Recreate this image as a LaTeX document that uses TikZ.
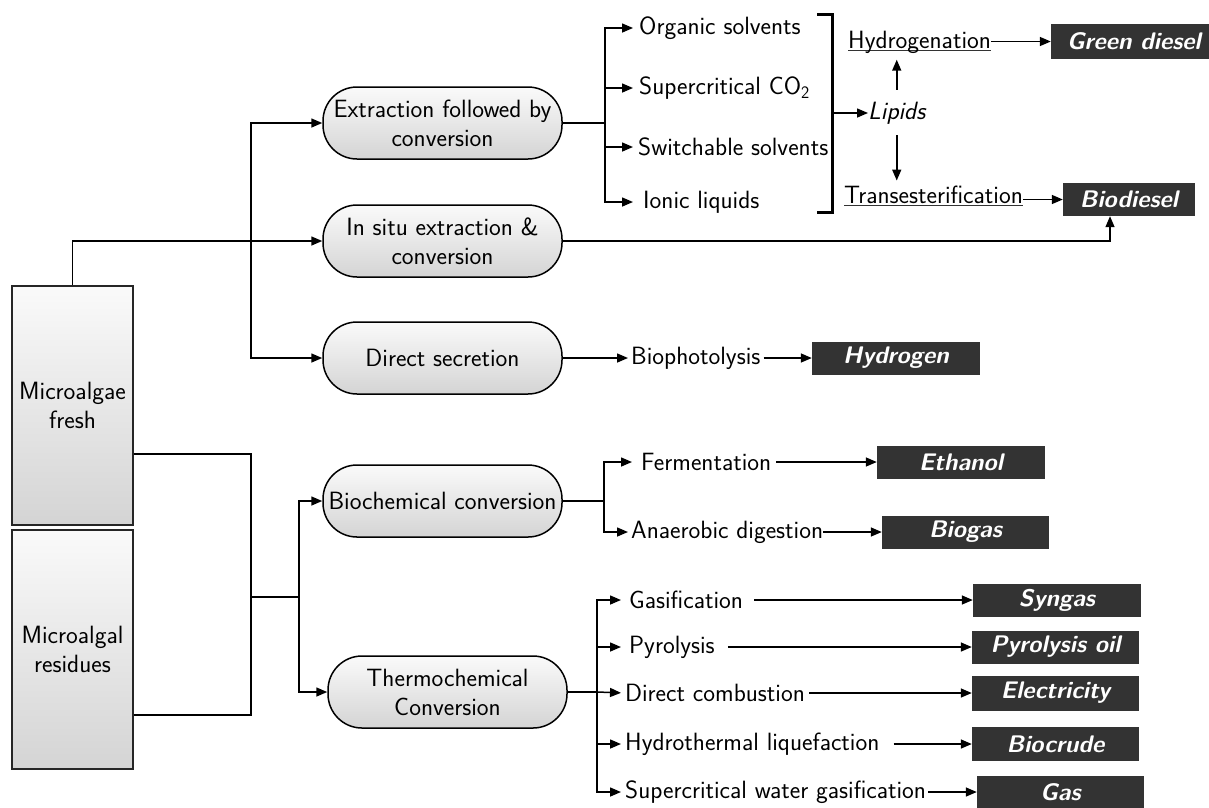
\documentclass[tikz,border=0pt]{standalone}
\usetikzlibrary{arrows.meta}
\definecolor{darkbox}{RGB}{51,51,51}
\definecolor{shtop}{RGB}{250,250,250}
\definecolor{shbot}{RGB}{212,212,212}
\newcommand{\dgf}{\fontsize{25}{29}\selectfont\sffamily}
\newcommand{\dgb}{\fontsize{24}{29}\selectfont\sffamily\bfseries\itshape}
\newcommand{\ulx}[1]{\setbox0\hbox{#1}\rlap{\color{black!80}\rule[-3pt]{\wd0}{1.3pt}}\box0}
\begin{document}
\begin{tikzpicture}[x=1pt,y=-1pt,
 conn/.style={line width=1.5pt},
 arr/.style={line width=1.5pt,-{Triangle[length=11pt,width=9pt]}},
 srcbox/.style={draw=black!85,line width=1.3pt,top color=shtop,bottom color=shbot,align=center,font=\dgf,minimum width=121pt,minimum height=239pt,inner sep=0pt},
 pill/.style={draw,line width=1.5pt,rounded corners=34pt,top color=shtop,bottom color=shbot,align=center,font=\dgf,minimum width=239pt,minimum height=72pt,inner sep=0pt},
 txt/.style={font=\dgf,inner sep=0pt,anchor=west},
 outb/.style={fill=darkbox,text=white,font=\dgb,inner sep=0pt,minimum width=168pt,minimum height=33pt},
]
\useasboundingbox (0,0) rectangle (1209,807);

% sources
\node[srcbox] (fresh) at (72.5,405.5) {Microalgae\\fresh};
\node[srcbox] (res) at (72.5,649.5) {Microalgal\\residues};

% pills
\node[pill] (ext) at (442.5,123) {Extraction followed by\\conversion};
\node[pill] (situ) at (442.5,241) {In situ extraction \&\\conversion};
\node[pill] (dir) at (442.5,358) {Direct secretion};
\node[pill] (bio) at (442.5,501) {Biochemical conversion};
\node[pill] (thermo) at (447.5,692) {Thermochemical\\Conversion};

% upper list
\node[txt] (org) at (639,28) {Organic solvents};
\node[txt] (sco) at (639,88) {Supercritical CO\textsubscript{2}};
\node[txt] (swi) at (638,147) {Switchable solvents};
\node[txt] (ion) at (643,202) {Ionic liquids};
\node[txt] (lip) at (868,113) {\itshape Lipids};
\node[txt,anchor=base west] (hydg) at (848,48) {\ulx{Hydrogenation}};
\node[txt,anchor=base west] (tra) at (844,203) {\ulx{Transesterification}};
\node[outb,minimum width=158pt,minimum height=35pt] (gd) at (1130,41.5) {\hspace*{8pt}Green diesel};
\node[outb,minimum width=132pt] (bd) at (1129,199.5) {Biodiesel};

% direct secretion
\node[txt] (bph) at (631,358) {Biophotolysis};
\node[outb] (hyd) at (896,358) {Hydrogen};

% biochemical
\node[txt] (fer) at (641,462) {Fermentation};
\node[txt] (ana) at (631,532) {Anaerobic digestion};
\node[outb] (eth) at (961,462) {Ethanol};
\node[outb,minimum width=167pt] (bgs) at (965.5,532) {Biogas};

% thermochemical
\node[txt] (gsf) at (629,600) {Gasification};
\node[txt] (pyr) at (629,647) {Pyrolysis};
\node[txt] (dcb) at (625,693) {Direct combustion};
\node[txt] (htl) at (625,744) {Hydrothermal liquefaction};
\node[txt] (scw) at (625,792) {Supercritical water gasification};
\node[outb] (syn) at (1057,600) {Syngas};
\node[outb,minimum width=167pt] (pyo) at (1055.5,647) {Pyrolysis oil};
\node[outb,minimum width=167pt,minimum height=35pt] (ele) at (1055.5,693) {Electricity};
\node[outb,minimum width=167pt,minimum height=34pt] (bcr) at (1055.5,744) {Biocrude};
\node[outb,minimum width=167pt] (gas) at (1060.5,792) {Gas};

% junctions
\coordinate (jA) at (251,241);
\coordinate (jB) at (605,123);
\coordinate (jC) at (604,501);
\coordinate (jD) at (251,597);
\coordinate (jE) at (299,597);
\coordinate (jF) at (597,692);
\coordinate (brk) at (832,113);

% left side
\draw[arr] (fresh.north) |- (situ.west);
\draw[arr] (jA) |- (ext.west);
\draw[arr] (jA) |- (dir.west);
\draw[conn] ([yshift=-48.5pt]fresh.east) -| (jD);
\draw[conn] ([yshift=-65.5pt]res.east) -| (jD);
\draw[conn] (jD) -- (jE);
\draw[arr] (jE) |- (bio.west);
\draw[arr] (jE) |- (thermo.west);

% extraction branch
\draw[conn] (ext.east) -- (jB);
\draw[arr,shorten >=6pt] (jB) |- (org.west);
\draw[arr,shorten >=6pt] (jB) |- (sco.west);
\draw[arr,shorten >=5pt] (jB) |- (swi.west);
\draw[arr,shorten >=10pt] (jB) |- (ion.west);
\draw[line width=3pt] (817,14) -- (832,14) -- (832,212) -- (817,212);
\draw[arr] (brk) -- (lip.west);
\draw[arr,shorten <=12pt,shorten >=6.4pt] (lip.north) -- (lip.north |- hydg.south);
\draw[arr,shorten <=11pt,shorten >=4.7pt] (lip.south) -- (lip.south |- tra.north);
\draw[arr] (hydg.east |- gd.west) -- (gd.west);
\draw[arr] (tra.east |- bd.west) -- (bd.west);
\draw[arr] (situ.east) -| ([xshift=-19pt]bd.south);

% direct secretion branch
\draw[arr,shorten >=3pt] (dir.east) -- (bph.west);
\draw[arr,shorten <=3pt] (bph.east) -- (hyd.west);

% biochemical branch
\draw[conn] (bio.east) -- (jC);
\draw[arr,shorten >=9pt] (jC) |- (fer.west);
\draw[arr,shorten >=3pt] (jC) |- (ana.west);
\draw[arr,shorten <=5pt] (fer.east) -- (eth.west);
\draw[arr] (ana.east) -- (bgs.west);

% thermochemical branch
\draw[conn] (thermo.east) -- (jF);
\draw[arr,shorten >=8pt] (jF) |- (gsf.west);
\draw[arr,shorten >=8pt] (jF) |- (pyr.west);
\draw[arr,shorten >=4pt] (jF) -- (dcb.west);
\draw[arr,shorten >=4pt] (jF) |- (htl.west);
\draw[arr,shorten >=4pt] (jF) |- (scw.west);
\draw[arr,shorten <=11pt] (gsf.east) -- (syn.west);
\draw[arr,shorten <=13pt] (pyr.east) -- (pyo.west);
\draw[arr,shorten <=4pt] (dcb.east) -- (ele.west);
\draw[arr,shorten <=14pt] (htl.east) -- (bcr.west);
\draw[arr,shorten <=2pt] (scw.east) -- (gas.west);
\end{tikzpicture}
\end{document}
